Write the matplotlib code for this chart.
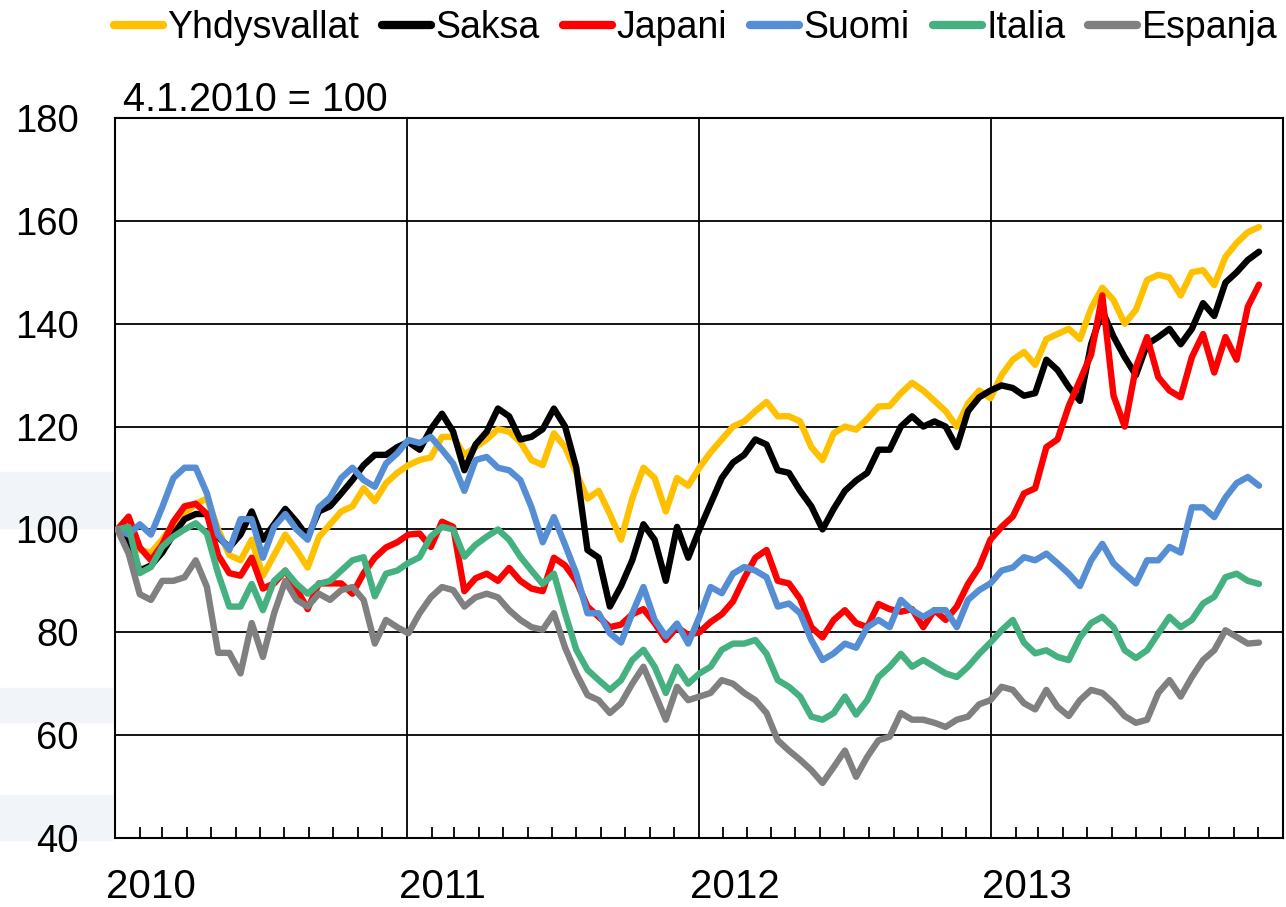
import matplotlib
matplotlib.use("Agg")
import matplotlib.pyplot as plt
import matplotlib.dates as mdates
from matplotlib.lines import Line2D
from matplotlib.patches import Rectangle
import matplotlib.transforms as mtransforms
import pandas as pd

plt.rcParams['font.family'] = ['Liberation Sans', 'DejaVu Sans']

# ---- data (index, 4.1.2010 = 100), sampled every 14 days ----
dates = pd.date_range('2010-01-04', periods=103, freq='14D')

series_names = ['Yhdysvallat', 'Saksa', 'Japani', 'Suomi', 'Italia', 'Espanja']

yhdysvallat = [
    100, 102, 96, 95.5, 98, 101, 103, 105, 106, 100,
    95, 94, 98, 91, 95, 99, 96, 92.6, 98.5, 101,
    103.5, 104.5, 108, 105.5, 109, 111, 112.5, 113.5, 114, 118,
    118, 114.5, 116, 117.5, 119.5, 119, 117, 113.5, 112.5, 118.7,
    116, 111, 106, 107.5, 103, 98, 106, 112, 110, 103.5,
    110, 108.5, 112, 115, 117.5, 120, 121, 123, 124.8, 122,
    122, 121, 116, 113.5, 118.7, 120, 119.4, 121.5, 123.9, 124,
    126.5, 128.5, 127, 125, 123, 120, 124.5, 127, 125.5, 130,
    133, 134.5, 132, 137, 138, 139, 137, 143, 147, 144.6,
    140, 142.7, 148.5, 149.5, 149, 145.5, 150, 150.4, 147.5, 153,
    155.7, 157.8, 158.8]

saksa = [
    100, 97.5, 92, 93, 95.5, 99, 102, 103, 103, 98.5,
    96.5, 99, 103.5, 98, 101, 104, 101.5, 98.5, 103.5, 104.5,
    107, 109.6, 112.5, 114.5, 114.5, 116, 117, 115.5, 119.5, 122.5,
    119, 111.5, 116.5, 119, 123.5, 122, 117.5, 118, 119.5, 123.5,
    120, 112, 96, 94.5, 85, 89, 94, 101, 98, 90,
    100.5, 94.5, 100, 105, 110, 113, 114.5, 117.5, 116.5, 111.5,
    111, 107.5, 104.5, 100, 104, 107.5, 109.5, 111, 115.5, 115.5,
    120, 122, 120, 121, 120, 116, 123, 125.7, 127, 128,
    127.5, 126, 126.5, 133, 131, 127.7, 125, 136, 142.5, 137.5,
    133.5, 130, 136, 137.4, 139, 136, 139, 144, 141.5, 148,
    150, 152.4, 154]

japani = [
    100, 102.5, 96.5, 94, 97, 101.5, 104.5, 105, 103, 95,
    91.5, 91, 94.5, 88.5, 89.5, 92, 88.5, 84.5, 89.5, 89.5,
    89.5, 87.5, 91.5, 94.5, 96.5, 97.5, 99, 99.2, 96.6, 101.5,
    100.5, 88, 90.5, 91.4, 90, 92.5, 90, 88.5, 88, 94.5,
    93, 90, 85, 83, 81, 81.5, 83.5, 84.5, 81.8, 78.5,
    81, 79.5, 80, 82, 83.5, 86, 90.5, 94.5, 96, 90,
    89.5, 86.5, 81, 79, 82.4, 84.3, 81.8, 81, 85.5, 84.5,
    84, 84.5, 81, 84.3, 82.4, 85, 89.4, 92.7, 98, 100.5,
    102.5, 107, 108, 116, 117.5, 124, 129, 134, 145.5, 126,
    120, 131.5, 137.4, 129.6, 127, 125.7, 133.5, 138, 130.5, 137.4,
    133, 143.3, 147.6]

suomi = [
    100, 99, 101, 99, 104.3, 110, 112, 112, 107, 99,
    96, 102, 102, 94.5, 100.5, 103, 100, 98, 104.3, 106.2,
    110, 112, 109.6, 108.3, 112.8, 114.8, 117.4, 116.8, 118, 115.5,
    112.8, 107.5, 113.5, 114.1, 112, 111.5, 109.6, 104.3, 97.5, 102.4,
    97, 91.4, 83.7, 83.7, 79.8, 78, 83.7, 88.8, 82.4, 79.2,
    81.7, 77.8, 83, 88.8, 87.6, 91.4, 92.7, 92, 90.7, 85,
    85.6, 83.7, 78.5, 74.6, 75.9, 77.8, 77, 81, 82.4, 81,
    86.3, 84.3, 83, 84.3, 84.3, 81, 86.3, 88.2, 89.5, 92,
    92.6, 94.6, 94, 95.3, 93.4, 91.4, 89, 94, 97.2, 93.4,
    91.4, 89.5, 94, 94, 96.6, 95.5, 104.3, 104.3, 102.4, 106.2,
    109, 110.2, 108.5]

italia = [
    100, 100.5, 91.5, 92.7, 96.6, 98.6, 100, 101.2, 99.2, 91.4,
    85, 85, 89.4, 84.3, 90, 92, 89.4, 87.5, 89.4, 90,
    92, 94, 94.6, 87, 91.4, 92, 93.5, 94.6, 98.6, 100.5,
    100, 94.7, 97, 98.6, 100, 98, 94.7, 92, 89.4, 91.4,
    83.7, 76.6, 72.7, 70.7, 68.8, 70.7, 74.6, 76.6, 73.3, 68.2,
    73.3, 70, 72, 73.3, 76.6, 77.8, 77.8, 78.5, 75.8, 70.7,
    69.4, 67.5, 63.6, 63, 64.3, 67.5, 64, 66.8, 71.3, 73.3,
    75.8, 73.3, 74.6, 73.3, 72, 71.3, 73.3, 75.8, 78, 80.4,
    82.4, 78, 75.9, 76.5, 75.2, 74.6, 79, 81.8, 83, 81,
    76.5, 75, 76.5, 79.8, 83, 81, 82.4, 85.6, 86.9, 90.7,
    91.4, 90, 89.4]

espanja = [
    100, 95.3, 87.4, 86.3, 90, 90, 90.7, 94, 88.8, 76,
    76, 72, 81.8, 75.2, 83.7, 90, 86.3, 85, 87.5, 86.3,
    88.2, 88.8, 86.3, 77.8, 82.4, 81, 79.8, 83.7, 86.8, 88.8,
    88.2, 85, 86.8, 87.5, 86.8, 84.3, 82.4, 81, 80.5, 83.7,
    77, 72, 67.8, 66.8, 64.3, 66.2, 70, 73.3, 68.2, 63,
    69.4, 66.8, 67.5, 68.2, 70.7, 70, 68.2, 66.8, 64.3, 59,
    57, 55.2, 53.2, 50.7, 53.8, 57, 51.9, 55.8, 59, 59.7,
    64.3, 63, 63, 62.4, 61.6, 63, 63.6, 66, 66.8, 69.4,
    68.8, 66.2, 65, 68.8, 65.5, 63.7, 66.8, 68.8, 68.2, 66.2,
    63.7, 62.4, 63, 68.2, 70.7, 67.5, 71.3, 74.6, 76.5, 80.4,
    79.1, 77.8, 78]

colors = ['#FFC000', '#000000', '#FF0000', '#558ED5', '#45B080', '#808080']
year_labels = ['2010', '2011', '2012', '2013']
y_ticks = [40, 60, 80, 100, 120, 140, 160, 180]
base_note = '4.1.2010 = 100'

# ---- figure ----
W, H = 1286, 907
fig = plt.figure(figsize=(W / 100, H / 100), dpi=100)
fig.patch.set_facecolor('white')

# faint background bands on the left margin (behind everything)
for (y0, y1) in [(472, 528), (688, 722), (795, 840)]:
    fig.patches.append(Rectangle((0, 1 - y1 / H), 112 / W, (y1 - y0) / H,
                                 transform=fig.transFigure, color='#F1F4F8',
                                 zorder=-10))

ax = fig.add_axes([115 / W, 1 - 838 / H, (1283 - 115) / W, (838 - 118) / H])
ax.set_zorder(1)

all_series = [yhdysvallat, saksa, japani, suomi, italia, espanja]
for name, vals, c in zip(series_names, all_series, colors):
    ax.plot(dates, vals, color=c, lw=4.6, solid_joinstyle='round',
            solid_capstyle='round', label=name, zorder=3)

ax.set_ylim(40, 180)
ax.set_xlim(pd.Timestamp('2010-01-01'), pd.Timestamp('2014-01-01'))
ax.set_yticks(y_ticks)
ax.tick_params(axis='y', length=0, pad=26, labelsize=27.5)

ax.xaxis.set_major_locator(mdates.YearLocator())
ax.xaxis.set_minor_locator(mdates.MonthLocator())
ax.tick_params(axis='x', which='major', length=0, labelbottom=False)
ax.tick_params(axis='x', which='minor', direction='in', length=8, width=1.3,
               color='black')

ax.grid(True, which='major', axis='both', color='black', lw=1.3, zorder=1)
for s in ax.spines.values():
    s.set_linewidth(1.5)
    s.set_color('black')

trans = mtransforms.blended_transform_factory(ax.transData, ax.transAxes)
for yl in year_labels:
    xpos = pd.Timestamp(f'{yl}-02-15')
    ax.text(xpos, -0.068, yl, transform=trans, ha='center', va='center',
            fontsize=29)

fig.text(123 / W, 1 - 100 / H, base_note, ha='left', va='center', fontsize=28.5)

handles = [Line2D([], [], color=c, lw=6, solid_capstyle='round') for c in colors]
fig.legend(handles, series_names, loc='center left',
           bbox_to_anchor=(114 / W, 1 - 28 / H), ncol=6, frameon=False,
           fontsize=27, handlelength=1.3, handletextpad=0.12,
           columnspacing=0.62, borderpad=0, borderaxespad=0)

fig.savefig('out.png', dpi=100, facecolor='white')
